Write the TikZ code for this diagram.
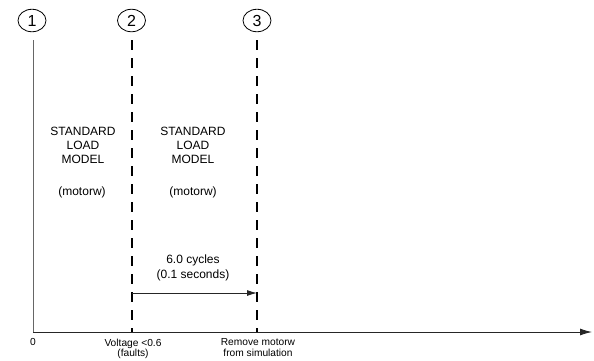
\documentclass[tikz,border=0pt]{standalone}
\usepackage{fontspec}
\setmainfont{Liberation Sans}
\usetikzlibrary{arrows.meta,shapes.geometric}
\begin{document}
\begin{tikzpicture}[x=1pt,y=-1pt,
  numcirc/.style={ellipse,draw,line width=0.8pt,minimum width=28pt,minimum height=22.5pt,inner sep=0pt,font=\fontsize{16}{16}\selectfont},
  evline/.style={line width=1.5pt,dash pattern=on 10pt off 8pt},
  lbl/.style={align=center,font=\fontsize{12}{13.7}\selectfont,inner sep=0pt},
  axlbl/.style={align=center,font=\fontsize{10.2}{10.7}\selectfont,inner sep=0pt,anchor=north}]
\useasboundingbox (0,0) rectangle (594,360);
\node[numcirc] (c1) at (32,20.5) {1};
\node[numcirc] (c2) at (131.5,20.5) {2};
\node[numcirc] (c3) at (257,20.5) {3};
\coordinate (t1) at (33,40);
\coordinate (t2) at (132,40);
\coordinate (t3) at (257,40);
\coordinate (b1) at (33,332);
\coordinate (b2) at (132,332);
\coordinate (b3) at (257,332);
\coordinate (aend) at (592,332);
\draw[gray!80!black,line width=1pt] (t1) -- (b1);
\draw[evline] (t2) -- (b2);
\draw[evline] (t3) -- (b3);
\draw[black!85,line width=0.9pt,-{Latex[length=12pt,width=7pt]}] (b1) -- (aend);
\node[lbl] (m1) at (83,145.5) {STANDARD\\LOAD\\MODEL};
\node[lbl] (w1) at (82,192) {(motorw)};
\node[lbl] (m2) at (193,145.5) {STANDARD\\LOAD\\MODEL};
\node[lbl] (w2) at (193,192) {(motorw)};
\node[lbl,font=\fontsize{12}{15}\selectfont] (cyc) at (193,267.5) {6.0 cycles\\(0.1 seconds)};
\coordinate (a2) at (132,293);
\coordinate (a3) at (257,293);
\draw[black!85,line width=0.9pt,-{Latex[length=10pt,width=6pt]}] (a2) -- (a3);
\node[axlbl] (l0) at (33,338.5) {0};
\node[axlbl] (l2) at (133,338.5) {Voltage <0.6\\(faults)};
\node[axlbl] (l3) at (258,338.5) {Remove motorw\\from simulation};
\end{tikzpicture}
\end{document}
